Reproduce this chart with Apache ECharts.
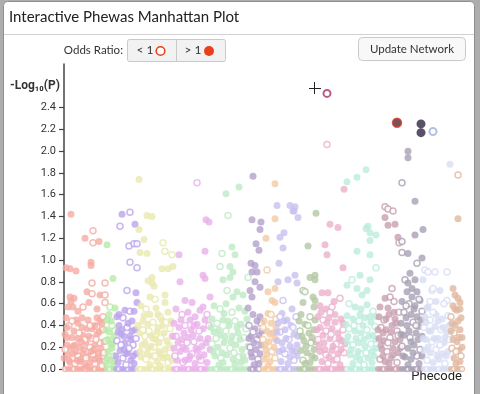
<!DOCTYPE html>
<html><head><meta charset="utf-8">
<script src="https://cdn.jsdelivr.net/npm/echarts@6/dist/echarts.min.js"></script>
<style>html,body{margin:0;padding:0;background:#adadad;}#c{width:480px;height:394px;}</style>
</head><body><div id="c"></div>
<script>
// ---- data ----
const categories = ['infectious diseases','neoplasms','endocrine/metabolic','hematopoietic','mental disorders','neurological','sense organs','circulatory system','respiratory','digestive','genitourinary','pregnancy complications','dermatologic','musculoskeletal','congenital anomalies','injuries & poisonings'];
const categoryStart = [0,41,51,73,109,146,184,198,212,234,252,281,313,336,359,386];
const categoryColors = ['#f5aba3','#b8eaa8','#bca4ec','#e8e8b0','#eab0ea','#bfeac4','#b4a0cc','#f2cba4','#c8c0f0','#b4c8a4','#ecb0cc','#bcecdc','#c8a0b0','#a8a0b4','#d8ddf4','#e0b8a0'];
const yTicks = [0,0.2,0.4,0.6,0.8,1.0,1.2,1.4,1.6,1.8,2.0,2.2,2.4];
// [phecode position, -log10(p), odds<1 (hollow)]
const cat1 = [[7,1.42,0],[21,1.20,0],[29,1.27,1],[29,1.16,1],[35,1.17,0],[27,0.98,0],[27,0.95,0],[2,0.93,0],[6,0.92,0],[12,0.90,0],[28,0.79,1],[41,0.79,1],[6,0.66,0],[10,0.65,0],[7,0.62,0],[4,0.57,0],[9,0.57,0],[23,0.71,0],[28,0.69,1],[36,0.68,0],[41,0.68,1],[25,0.61,0],[14,0.53,0],[19,0.57,1],[33,0.55,0],[41,0.61,1],[2,0.47,0],[12,0.45,0],[14,0.42,0],[33,0.47,0],[36,0.45,0],[39,0.48,1],[18,0.38,0],[23,0.37,0],[28,0.37,0],[33,0.39,1],[39,0.36,1],[3,0.29,0],[8,0.29,0],[14,0.28,0],[19,0.31,0],[28,0.28,1],[33,0.32,0],[3,0.22,0],[6,0.19,0],[11,0.22,0],[16,0.20,0],[22,0.24,0],[26,0.20,1],[31,0.22,0],[36,0.24,1],[4,0.13,0],[9,0.14,0],[14,0.12,1],[19,0.14,0],[24,0.12,0],[29,0.13,1],[34,0.15,0],[39,0.12,1],[6,0.06,0],[11,0.05,1],[16,0.07,0],[21,0.04,0],[26,0.06,0],[31,0.05,1],[36,0.07,0],[1,0.32,0],[5,0.40,1],[24,0.45,0],[30,0.18,0],[17,0.09,0],[38,0.03,1],[12,0.16,0],[21,0.27,1],[0,0.10,0],[3,0.38,0],[8,0.44,1],[10,0.35,0],[13,0.08,0],[15,0.33,1],[17,0.25,0],[20,0.18,0],[22,0.10,1],[25,0.30,0],[27,0.16,0],[30,0.09,0],[32,0.27,1],[35,0.34,0],[37,0.19,0],[40,0.25,0],[1,0.18,1],[9,0.21,0],[18,0.47,0],[26,0.40,1],[31,0.40,0],[38,0.42,0],[5,0.08,0],[23,0.02,0],[35,0.10,0],[40,0.15,1]];
const cat2 = [[43,1.14,0],[49,0.83,0],[46,0.57,1],[51,0.56,0],[43,0.45,0],[48,0.40,1],[45,0.34,0],[50,0.30,0],[42,0.26,1],[47,0.22,0],[44,0.16,0],[50,0.12,1],[46,0.08,0],[42,0.05,0],[49,0.03,0],[45,0.50,0],[42,0.36,0],[44,0.27,0],[48,0.19,0],[51,0.35,1],[43,0.10,0],[47,0.44,0],[49,0.24,0],[51,0.08,0]];
const cat3 = [[58,1.42,0],[66,1.44,1],[56,1.31,1],[71,1.33,0],[65,1.13,1],[70,1.15,1],[73,1.15,1],[66,0.98,1],[73,0.93,1],[63,0.72,1],[72,0.70,0],[73,0.61,0],[61,0.54,0],[66,0.53,1],[70,0.53,0],[53,0.48,0],[59,0.47,1],[68,0.44,0],[55,0.40,0],[63,0.38,1],[71,0.36,0],[57,0.32,0],[66,0.30,0],[53,0.26,1],[61,0.24,0],[69,0.22,1],[56,0.17,0],[64,0.15,0],[72,0.14,0],[59,0.10,1],[67,0.08,0],[54,0.06,0],[62,0.04,1],[70,0.05,0],[65,0.19,1],[58,0.36,0],[52,0.12,0],[54,0.34,0],[57,0.22,1],[60,0.30,0],[62,0.14,0],[64,0.42,0],[67,0.27,0],[69,0.12,0],[72,0.28,1],[55,0.50,0],[60,0.18,0],[68,0.35,0]];
const cat4 = [[75,1.74,0],[83,1.41,0],[88,1.40,0],[80,1.19,0],[75,1.28,0],[76,1.07,0],[83,1.06,0],[88,0.84,0],[88,0.79,0],[84,0.81,0],[90,0.76,0],[99,1.16,1],[101,1.08,1],[108,1.05,1],[98,0.92,0],[104,0.92,0],[109,0.94,0],[101,0.68,0],[101,0.61,0],[77,0.58,0],[82,0.55,1],[86,0.50,0],[92,0.56,0],[96,0.48,1],[104,0.52,0],[79,0.44,0],[84,0.41,0],[89,0.43,1],[94,0.38,0],[99,0.40,0],[106,0.37,1],[76,0.33,0],[81,0.30,1],[87,0.31,0],[92,0.27,0],[97,0.29,1],[103,0.26,0],[108,0.30,0],[78,0.22,0],[84,0.19,0],[90,0.20,1],[95,0.16,0],[101,0.18,0],[106,0.15,1],[77,0.11,0],[82,0.09,1],[88,0.12,0],[93,0.07,0],[99,0.10,0],[104,0.06,1],[86,0.04,0],[96,0.03,0],[108,0.08,0],[80,0.49,0],[100,0.33,0],[91,0.64,1],[86,0.66,0],[74,0.40,0],[76,0.16,0],[79,0.36,1],[81,0.24,0],[83,0.14,0],[85,0.35,1],[87,0.21,0],[89,0.28,0],[91,0.12,1],[93,0.34,0],[95,0.24,0],[97,0.13,0],[98,0.45,0],[102,0.43,1],[105,0.22,0],[107,0.44,0],[103,0.11,0],[94,0.50,0]];
const cat5 = [[133,1.71,1],[142,1.37,0],[145,1.35,0],[115,1.05,0],[141,1.08,0],[139,0.86,0],[141,0.83,0],[116,0.80,0],[121,0.63,0],[128,0.61,0],[136,0.54,0],[139,0.57,0],[146,0.66,0],[112,0.55,0],[118,0.50,1],[124,0.52,0],[131,0.48,0],[143,0.50,1],[110,0.42,0],[115,0.38,0],[121,0.40,1],[127,0.36,0],[133,0.41,0],[139,0.37,0],[145,0.40,1],[112,0.30,1],[118,0.27,0],[124,0.29,0],[130,0.25,1],[136,0.28,0],[142,0.24,0],[110,0.19,0],[116,0.16,0],[122,0.18,0],[128,0.14,1],[134,0.17,0],[140,0.13,0],[146,0.18,0],[113,0.08,0],[119,0.06,1],[125,0.09,0],[131,0.05,0],[137,0.08,1],[143,0.06,0],[126,0.45,0],[120,0.33,0],[109,0.30,0],[111,0.12,1],[114,0.24,0],[117,0.45,0],[119,0.20,0],[123,0.24,1],[126,0.12,0],[129,0.31,0],[132,0.19,0],[135,0.35,1],[138,0.21,0],[141,0.45,0],[144,0.28,0],[121,0.08,0],[135,0.11,0],[130,0.40,0]];
const cat6 = [[162,1.61,0],[175,1.67,0],[164,1.41,1],[158,1.06,1],[168,1.12,0],[171,1.05,0],[156,0.94,1],[166,0.94,0],[169,0.89,0],[159,0.82,0],[166,0.84,0],[184,0.84,1],[163,0.72,1],[173,0.71,0],[169,0.66,0],[179,0.68,0],[150,0.58,0],[156,0.55,1],[162,0.60,0],[168,0.52,1],[175,0.56,0],[181,0.53,0],[148,0.46,0],[153,0.42,1],[159,0.45,0],[165,0.40,0],[171,0.44,1],[177,0.41,0],[183,0.46,0],[150,0.34,0],[156,0.31,0],[162,0.35,1],[168,0.30,0],[174,0.33,0],[180,0.29,1],[148,0.23,1],[154,0.20,0],[160,0.24,0],[166,0.19,1],[172,0.22,0],[178,0.18,0],[151,0.12,0],[157,0.10,1],[163,0.13,0],[169,0.09,0],[175,0.11,1],[181,0.08,0],[155,0.04,0],[171,0.05,0],[160,0.51,0],[147,0.38,0],[149,0.16,0],[152,0.28,1],[155,0.36,0],[158,0.15,0],[161,0.29,0],[164,0.44,0],[167,0.25,0],[170,0.15,1],[173,0.38,0],[176,0.27,0],[179,0.12,0],[182,0.37,1],[184,0.21,0],[159,0.06,0],[177,0.06,0]];
const cat7 = [[189,1.77,0],[188,1.37,0],[197,1.35,0],[196,1.28,0],[192,1.15,0],[195,1.09,0],[187,0.97,0],[191,0.95,0],[188,0.89,0],[193,0.89,0],[191,0.80,0],[196,0.75,0],[186,0.72,0],[188,0.66,0],[189,0.50,0],[196,0.48,0],[185,0.40,1],[191,0.37,0],[197,0.42,1],[187,0.30,0],[193,0.27,1],[186,0.20,1],[192,0.18,0],[197,0.22,0],[188,0.11,0],[194,0.09,1],[190,0.04,0],[196,0.14,0],[184,0.56,0],[185,0.28,0],[187,0.15,0],[189,0.34,1],[190,0.24,0],[193,0.44,0],[195,0.31,0],[195,0.05,0],[198,0.35,0]];
const cat8 = [[211,1.70,0],[211,1.38,0],[202,1.20,0],[203,0.91,1],[204,0.71,0],[211,0.74,0],[208,0.63,0],[211,0.61,0],[204,0.51,0],[200,0.44,0],[207,0.42,0],[212,0.46,1],[203,0.35,0],[209,0.33,0],[199,0.27,1],[205,0.25,0],[211,0.28,0],[202,0.18,0],[208,0.16,1],[200,0.09,0],[206,0.07,0],[211,0.10,1],[204,0.03,0],[199,0.38,1],[201,0.22,0],[203,0.13,0],[206,0.32,0],[207,0.50,1],[210,0.20,0],[212,0.38,0]];
const cat9 = [[213,1.50,0],[226,1.50,0],[231,1.49,0],[229,1.45,0],[230,1.45,0],[234,1.39,0],[216,1.21,0],[220,1.25,0],[219,1.11,0],[215,0.97,0],[224,0.82,0],[231,0.86,0],[233,0.79,0],[214,0.80,0],[219,0.63,1],[218,0.51,0],[223,0.45,0],[228,0.55,0],[232,0.48,1],[214,0.42,0],[227,0.40,0],[216,0.34,1],[221,0.36,0],[230,0.32,0],[213,0.26,0],[218,0.24,0],[225,0.27,1],[233,0.22,0],[215,0.16,0],[221,0.14,1],[228,0.17,0],[233,0.12,0],[217,0.07,0],[224,0.05,0],[230,0.08,1],[213,0.34,0],[216,0.48,1],[219,0.18,0],[222,0.28,0],[226,0.21,0],[229,0.38,1],[231,0.16,0],[234,0.30,0],[220,0.44,0],[226,0.11,0]];
const cat10 = [[252,1.43,0],[244,1.13,0],[246,0.84,0],[251,0.86,0],[251,0.82,0],[239,0.72,1],[241,0.71,1],[249,0.66,0],[251,0.63,0],[239,0.61,0],[250,0.57,0],[237,0.50,0],[246,0.48,1],[251,0.45,0],[241,0.41,0],[236,0.35,1],[245,0.33,0],[250,0.36,0],[240,0.26,0],[247,0.24,1],[237,0.17,0],[243,0.15,0],[250,0.18,0],[239,0.08,1],[246,0.06,0],[251,0.10,0],[235,0.44,0],[238,0.30,0],[242,0.21,0],[244,0.40,1],[248,0.29,0],[252,0.25,0],[241,0.05,0],[248,0.12,0]];
const cat11 = [[263,2.06,1],[280,1.65,0],[266,1.33,0],[274,1.30,0],[261,1.14,0],[263,1.05,0],[279,0.93,0],[258,0.70,0],[264,0.70,0],[276,0.65,1],[256,0.58,0],[262,0.55,0],[268,0.57,1],[254,0.48,0],[259,0.45,1],[265,0.47,0],[271,0.43,0],[277,0.46,0],[256,0.38,0],[262,0.35,1],[268,0.37,0],[274,0.33,0],[279,0.36,1],[254,0.27,1],[260,0.24,0],[266,0.28,0],[272,0.23,1],[278,0.26,0],[256,0.16,0],[262,0.13,1],[268,0.17,0],[274,0.14,0],[280,0.15,1],[258,0.07,0],[264,0.05,1],[270,0.08,0],[276,0.04,0],[270,0.62,0],[253,0.36,0],[255,0.21,0],[257,0.52,0],[259,0.31,0],[261,0.18,0],[263,0.42,0],[265,0.11,0],[267,0.32,1],[269,0.21,0],[271,0.50,0],[273,0.09,1],[275,0.28,0],[277,0.18,0],[279,0.42,0],[281,0.23,0],[266,0.52,1]];
const cat12 = [[302,1.83,0],[293,1.76,0],[283,1.72,0],[304,1.31,0],[302,1.29,0],[306,1.25,0],[312,1.23,0],[306,1.18,0],[293,1.08,0],[306,1.05,0],[296,0.86,0],[288,0.82,1],[306,0.82,0],[312,0.93,1],[283,0.77,0],[293,0.74,0],[303,0.72,0],[298,0.68,0],[285,0.60,1],[291,0.57,0],[297,0.55,0],[303,0.59,0],[309,0.53,1],[283,0.49,0],[289,0.46,0],[295,0.44,1],[301,0.47,0],[307,0.43,0],[312,0.48,0],[285,0.37,1],[291,0.35,0],[297,0.33,0],[303,0.36,1],[309,0.31,0],[283,0.25,0],[289,0.22,1],[295,0.24,0],[301,0.21,0],[307,0.23,1],[312,0.19,0],[286,0.13,0],[292,0.11,0],[298,0.14,1],[304,0.10,0],[310,0.12,0],[289,0.05,0],[300,0.04,1],[308,0.06,0],[282,0.41,0],[284,0.30,0],[287,0.18,0],[290,0.40,1],[292,0.28,0],[294,0.16,0],[296,0.50,0],[299,0.40,0],[300,0.27,0],[302,0.15,1],[305,0.30,0],[306,0.48,0],[308,0.16,0],[311,0.39,1],[312,0.27,0],[296,0.08,0]];
const cat13 = [[321,1.49,1],[324,1.47,1],[329,1.45,1],[321,1.39,0],[324,1.32,0],[331,1.33,0],[334,1.21,0],[335,1.16,1],[328,0.74,1],[326,0.66,1],[321,0.65,0],[316,0.57,0],[315,0.48,0],[320,0.45,1],[325,0.50,0],[331,0.46,0],[335,0.52,1],[317,0.38,1],[322,0.36,0],[328,0.40,0],[333,0.35,1],[315,0.28,0],[320,0.26,0],[326,0.29,1],[331,0.25,0],[336,0.27,0],[318,0.18,0],[323,0.16,1],[329,0.19,0],[334,0.15,0],[316,0.09,1],[321,0.07,0],[327,0.10,0],[333,0.06,1],[324,0.56,0],[314,0.36,0],[317,0.22,0],[319,0.33,0],[322,0.46,0],[324,0.24,1],[327,0.34,0],[329,0.13,0],[330,0.52,0],[332,0.42,0],[334,0.31,1],[336,0.19,0],[319,0.12,0],[325,0.05,0],[330,0.62,1]];
const cat14 = [[344,2.00,0],[344,1.94,0],[338,1.71,1],[351,1.54,0],[359,1.28,0],[351,1.23,0],[338,1.17,1],[338,1.07,1],[344,1.06,0],[358,1.02,0],[353,0.97,1],[346,0.88,0],[341,0.82,1],[344,0.79,0],[351,0.82,0],[348,0.74,0],[343,0.71,0],[353,0.71,0],[338,0.62,0],[345,0.60,1],[351,0.58,0],[356,0.63,0],[340,0.52,1],[347,0.50,0],[353,0.48,0],[358,0.53,1],[337,0.42,0],[343,0.40,0],[349,0.43,1],[355,0.39,0],[340,0.31,0],[346,0.29,1],[352,0.33,0],[358,0.30,0],[338,0.21,1],[344,0.19,0],[350,0.22,0],[356,0.18,1],[341,0.11,0],[347,0.09,0],[353,0.12,1],[344,0.04,0],[355,0.05,0],[337,0.32,0],[339,0.12,0],[342,0.47,0],[345,0.35,0],[347,0.25,0],[349,0.15,0],[350,0.55,0],[352,0.40,1],[354,0.27,0],[357,0.45,0],[358,0.12,0],[342,0.58,1],[348,0.66,0],[355,0.64,1]];
const cat15 = [[386,1.88,0],[361,0.91,1],[364,0.89,1],[371,0.89,1],[383,0.89,1],[359,0.82,0],[376,0.72,0],[368,0.72,1],[369,0.74,1],[364,0.57,0],[363,0.56,0],[383,0.63,1],[380,0.60,1],[361,0.48,0],[366,0.45,1],[372,0.50,0],[378,0.46,0],[384,0.49,1],[360,0.38,1],[365,0.35,0],[371,0.39,0],[377,0.36,1],[383,0.34,0],[362,0.27,0],[368,0.25,1],[374,0.28,0],[380,0.24,0],[385,0.27,1],[360,0.17,0],[366,0.15,0],[372,0.18,1],[378,0.14,0],[384,0.16,0],[363,0.08,1],[369,0.06,0],[375,0.09,0],[381,0.05,1],[359,0.28,0],[362,0.43,0],[364,0.20,0],[367,0.35,0],[369,0.52,1],[370,0.28,0],[373,0.12,0],[374,0.44,0],[376,0.22,1],[379,0.38,0],[381,0.29,0],[382,0.12,0],[385,0.40,0],[372,0.62,0],[366,0.62,1]];
const cat16 = [[394,1.78,1],[394,1.38,0],[389,0.74,0],[391,0.68,0],[394,0.65,0],[396,0.61,0],[391,0.55,0],[393,0.54,0],[396,0.55,0],[388,0.42,0],[396,0.36,0],[398,0.29,0],[387,0.48,1],[390,0.33,1],[393,0.25,0],[388,0.19,1],[395,0.17,0],[390,0.10,0],[397,0.12,1],[392,0.05,0],[387,0.35,0],[389,0.27,0],[391,0.40,0],[392,0.16,1],[394,0.44,0],[395,0.29,0],[397,0.47,0],[398,0.20,0],[389,0.58,0],[396,0.07,0]];
// phecodes with -log10(p) of 0: [position, odds<1]
const zeroPoints = [[1,1],[4,0],[7,0],[10,1],[13,0],[16,0],[19,0],[22,1],[25,0],[28,0],[31,1],[34,0],[37,0],[40,0],[43,0],[46,1],[49,0],[52,0],[55,1],[58,0],[61,0],[64,1],[67,0],[70,0],[74,0],[77,1],[80,0],[83,0],[86,0],[89,1],[92,0],[95,0],[98,0],[101,1],[104,0],[107,0],[110,0],[113,1],[116,0],[119,0],[122,0],[125,1],[128,0],[131,0],[134,0],[137,1],[140,0],[143,0],[147,0],[150,0],[153,1],[156,0],[159,0],[162,0],[165,0],[168,1],[171,0],[174,0],[177,0],[180,0],[183,0],[186,0],[189,1],[192,0],[195,1],[199,0],[202,0],[205,1],[208,0],[211,0],[214,0],[217,1],[220,0],[223,0],[226,1],[229,0],[232,0],[235,0],[238,0],[241,1],[244,0],[247,0],[250,0],[253,0],[256,1],[259,0],[262,0],[265,0],[268,1],[271,0],[274,0],[277,0],[280,0],[283,1],[286,0],[289,0],[292,1],[295,0],[298,0],[301,1],[304,0],[307,0],[310,0],[314,0],[317,0],[320,1],[323,0],[326,0],[329,0],[332,1],[335,0],[338,0],[341,0],[344,1],[347,0],[350,0],[353,1],[356,0],[360,0],[363,1],[366,0],[369,0],[372,0],[375,1],[378,0],[381,0],[384,0],[387,0],[390,1],[393,0],[396,0],[398,1]];
// highlighted (selected) phecodes: [position, -log10(p), odds<1, color]
const selectedPoints = [[263,2.53,1,'#a8336f'],[333,2.26,0,'#5e2330'],[357,2.25,0,'#2f2642'],[357,2.17,0,'#2f2642'],[369,2.18,1,'#9fb1d9']];
const catData = [cat1,cat2,cat3,cat4,cat5,cat6,cat7,cat8,cat9,cat10,cat11,cat12,cat13,cat14,cat15,cat16];

// ---- build ----
const FONT = 'Roboto, "Liberation Sans", Arial, sans-serif';
const UIFONT = 'Lato, Roboto, "Liberation Sans", sans-serif';
function item(x, y, hollow, color, size) {
  return hollow
    ? {value:[x,y], symbolSize:size-1, itemStyle:{color:'#fff', borderColor:color, borderWidth:1.5}}
    : {value:[x,y], symbolSize:size, itemStyle:{color:color, borderWidth:0}};
}
function catOf(x){ let c=0; for(let i=0;i<categoryStart.length;i++){ if(x>=categoryStart[i]) c=i; } return c; }
const series = categories.map((name, i) => {
  const col = categoryColors[i];
  const zeros = zeroPoints.filter(p => catOf(p[0]) === i).map(p => item(p[0], 0, p[1], col, 6));
  const pts = catData[i].map(p => item(p[0], p[1], p[2], col, 7));
  return {name, type:'scatter', silent:true, animation:false, data: zeros.concat(pts)};
});
series.push({name:'selected', type:'scatter', silent:true, animation:false,
  data: selectedPoints.map(p => p[2]
    ? {value:[p[0],p[1]], symbolSize:7, itemStyle:{color:'#fff', borderColor:p[3], borderWidth:2}}
    : {value:[p[0],p[1]], symbolSize:9, itemStyle:{color:p[3], borderColor: p[3]==='#5e2330' ? '#d0402a' : p[3], borderWidth: p[3]==='#5e2330' ? 1.5 : 0}})});

const chart = echarts.init(document.getElementById('c'), null, {renderer:'canvas'});
chart.setOption({
  backgroundColor:'#adadad',
  animation:false,
  grid:{left:64, right:16, top:64, bottom:25, containLabel:false},
  xAxis:{type:'value', min:0, max:400, show:false},
  yAxis:{type:'value', min:0, max:2.8, interval:0.2,
    axisLine:{show:true, lineStyle:{color:'#444', width:1.5}},
    axisTick:{show:true, length:5, customValues:yTicks, lineStyle:{color:'#444', width:1.2}},
    axisLabel:{customValues:yTicks, formatter:v=>v.toFixed(1), color:'#333', fontSize:11, margin:8, fontFamily:FONT},
    splitLine:{show:false}},
  graphic:[
    {type:'rect', z:-10, silent:true, shape:{x:3.5, y:1.5, width:471, height:400, r:[4,4,0,0]}, style:{fill:'#fff', stroke:'#8f8f8f', lineWidth:1}},
    {type:'line', silent:true, shape:{x1:4, y1:34.5, x2:474, y2:34.5}, style:{stroke:'#d2d2d2', lineWidth:1}},
    {type:'text', silent:true, left:9, top:10, style:{text:'Interactive Phewas Manhattan Plot', fontSize:15, fill:'#222', fontFamily:UIFONT}},
    {type:'text', silent:true, style:{x:123, y:50, text:'Odds Ratio:', align:'right', verticalAlign:'middle', fontSize:11.5, fill:'#333', fontFamily:UIFONT}},
    {type:'rect', silent:true, shape:{x:127.5, y:39.5, width:98, height:22, r:2}, style:{fill:'#f2f2f2', stroke:'#c9c9c9', lineWidth:1}},
    {type:'line', silent:true, shape:{x1:176.5, y1:39.5, x2:176.5, y2:61.5}, style:{stroke:'#c9c9c9', lineWidth:1}},
    {type:'text', silent:true, style:{x:145, y:50.5, text:'< 1', align:'center', verticalAlign:'middle', fontSize:12, fill:'#333', fontFamily:UIFONT}},
    {type:'circle', silent:true, shape:{cx:160.5, cy:51, r:4.3}, style:{fill:'#fff', stroke:'#e8401c', lineWidth:1.6}},
    {type:'text', silent:true, style:{x:193, y:50.5, text:'> 1', align:'center', verticalAlign:'middle', fontSize:12, fill:'#333', fontFamily:UIFONT}},
    {type:'circle', silent:true, shape:{cx:209, cy:51, r:5}, style:{fill:'#e8401c'}},
    {type:'rect', silent:true, shape:{x:358.5, y:37.5, width:107, height:23, r:4}, style:{fill:'#f8f8f8', stroke:'#c9c9c9', lineWidth:1}},
    {type:'text', silent:true, style:{x:412, y:49, text:'Update Network', align:'center', verticalAlign:'middle', fontSize:11.5, fill:'#333', fontFamily:UIFONT}},
    {type:'text', silent:true, style:{x:10, y:86, text:'-Log₁₀(P)', verticalAlign:'middle', fontSize:12, fontWeight:'bold', fill:'#333', fontFamily:FONT}},
    {type:'text', silent:true, style:{x:462, y:377, text:'Phecode', align:'right', verticalAlign:'middle', fontSize:13, fill:'#222', fontFamily:FONT}},
    {type:'line', silent:true, z:100, shape:{x1:309, y1:88.5, x2:321, y2:88.5}, style:{stroke:'#222', lineWidth:1}},
    {type:'line', silent:true, z:100, shape:{x1:314.5, y1:82, x2:314.5, y2:94}, style:{stroke:'#222', lineWidth:1}}
  ],
  series
});
</script></body></html>
